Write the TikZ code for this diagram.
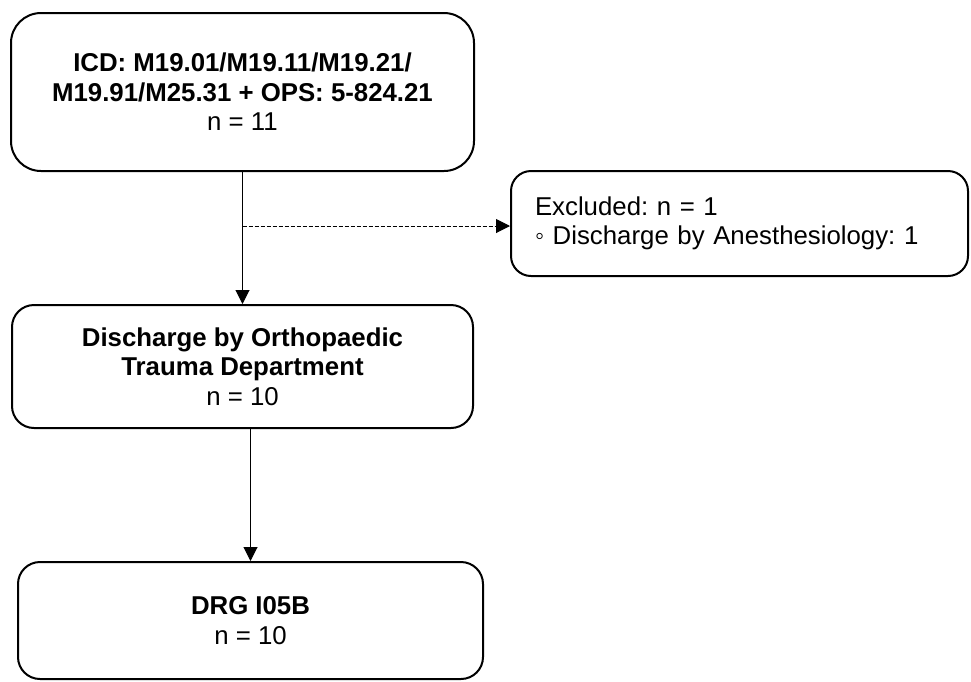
\documentclass[tikz,border=0pt]{standalone}
\usepackage{fontspec}
\setmainfont{Liberation Sans}
\usetikzlibrary{arrows.meta}
\frenchspacing
\begin{document}
\begin{tikzpicture}[x=1pt,y=-1pt,
  box/.style={draw, line width=2pt, align=center, inner sep=0pt, font=\fontsize{25.8}{29.5}\selectfont\frenchspacing},
  arr/.style={-{Triangle[length=14pt,width=14pt]}, line width=1pt}]
\useasboundingbox (0,0) rectangle (971,681);
\node[box, rounded corners=30pt, minimum width=463pt, minimum height=158pt] (a) at (242.5,92)
  {\textbf{ICD: M19.01/M19.11/M19.21/}\\\textbf{M19.91/M25.31 + OPS: 5-824.21}\\n = 11};
\node[box, rounded corners=20pt, align=left, text width=409pt, inner xsep=24pt, minimum height=105pt] (b) at (739.5,223.5)
  {Excluded: n = 1\\◦ Discharge by Anesthesiology: 1};
\node[box, rounded corners=22pt, minimum width=461pt, minimum height=123pt] (c) at (242.5,366.5)
  {\textbf{Discharge by Orthopaedic}\\\textbf{Trauma Department}\\n = 10};
\node[box, rounded corners=22pt, minimum width=465pt, minimum height=117pt] (d) at (250.5,620.5)
  {\textbf{DRG I05B}\\n = 10};
\coordinate (j) at (242.5,226);
\draw[arr] (a.south) -- (c.north);
\draw[arr, dash pattern=on 4pt off 2pt] (j) -- (j -| b.west);
\draw[arr] (c.south -| d.north) -- (d.north);
\end{tikzpicture}
\end{document}
